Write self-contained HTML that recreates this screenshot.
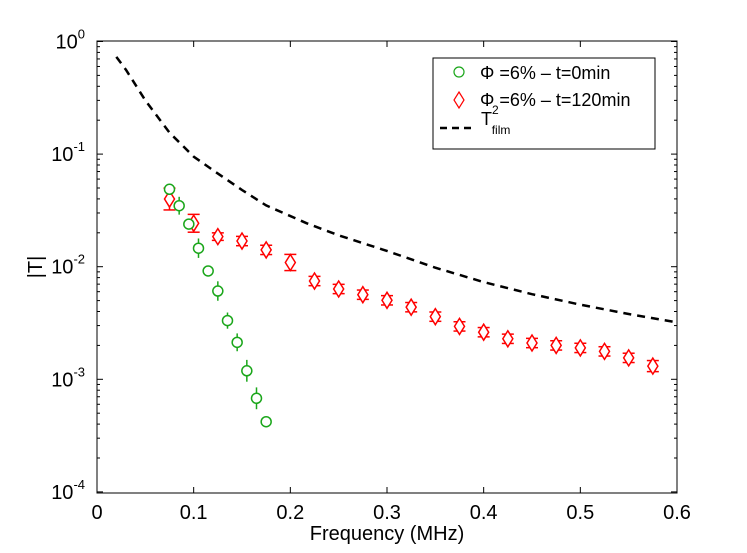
<!DOCTYPE html>
<html><head><meta charset="utf-8"><style>
body{margin:0;background:#fff;}
svg{display:block;font-family:"Liberation Sans",sans-serif;}
</style></head><body>
<svg id="chart" width="747" height="553">
<rect x="97" y="41" width="580" height="452" fill="#fff" stroke="#000" stroke-width="1"/>
<g id="ticks"></g>
<g id="series"></g>
<text x="387" y="540" font-size="20" text-anchor="middle">Frequency (MHz)</text>
<text x="0" y="0" font-size="20" text-anchor="middle" transform="translate(42,267) rotate(-90)">|T|</text>
<g>
<rect x="433" y="58" width="222" height="91" fill="#fff" stroke="#000"/>
<circle cx="459" cy="72" r="5" fill="none" stroke="#1aa61a" stroke-width="1.2"/>
<text x="480" y="79" font-size="18">Φ =6% – t=0min</text>
<path d="M459,92 l5,8 l-5,8 l-5,-8 z" fill="none" stroke="#f00" stroke-width="1.2"/>
<text x="480" y="106" font-size="18">Φ =6% – t=120min</text>
<line x1="440" y1="128" x2="475" y2="128" stroke="#000" stroke-width="2.5" stroke-dasharray="7,5"/>
<text x="481" y="125" font-size="18">T<tspan dy="-11" font-size="12">2</tspan><tspan dy="20" dx="-7" font-size="12">film</tspan></text>
</g>
</svg>
<script>
const xTicks=[0,0.1,0.2,0.3,0.4,0.5,0.6];
const xTickLabels=["0","0.1","0.2","0.3","0.4","0.5","0.6"];
const yExps=[0,-1,-2,-3,-4];
const filmFreq=[0.02,0.03,0.05,0.075,0.1,0.122,0.15,0.175,0.217,0.25,0.3,0.35,0.4,0.45,0.5,0.55,0.6];
const filmT=[0.73,0.56,0.30,0.155,0.095,0.07,0.048,0.035,0.0243,0.019,0.0138,0.0098,0.0073,0.0057,0.0046,0.0038,0.0032];
const gFreq=[0.075,0.085,0.095,0.105,0.115,0.125,0.135,0.145,0.155,0.165,0.175];
const gT=[0.0487,0.0348,0.0239,0.0146,0.00916,0.00608,0.00332,0.00213,0.00119,0.000678,0.00042];
const gErr=[0.1,0.2,0.1,0.22,0.06,0.22,0.18,0.2,0.25,0.25,0.04];
const rFreq=[0.075,0.1,0.125,0.15,0.175,0.2,0.225,0.25,0.275,0.3,0.325,0.35,0.375,0.4,0.425,0.45,0.475,0.5,0.525,0.55,0.575];
const rT=[0.0399,0.0243,0.0185,0.0169,0.0141,0.0109,0.00746,0.00634,0.00564,0.00503,0.00437,0.0036,0.00295,0.00262,0.00229,0.0021,0.002,0.0019,0.00177,0.00155,0.00131];
const rErr=[0.25,0.2,0.08,0.1,0.1,0.18,0.1,0.1,0.1,0.1,0.1,0.1,0.1,0.1,0.1,0.1,0.1,0.1,0.1,0.1,0.12];

const X0=97,X1=677,Y0=41.5,DEC=112.6;
const sx=f=>X0+f/0.6*(X1-X0);
const sy=v=>Y0-Math.log10(v)*DEC;
const NS="http://www.w3.org/2000/svg";
function mk(tag,attrs,parent){const e=document.createElementNS(NS,tag);for(const k in attrs)e.setAttribute(k,attrs[k]);parent.appendChild(e);return e;}
const tk=document.getElementById('ticks'),se=document.getElementById('series');
xTicks.forEach((t,i)=>{
 const x=sx(t);
 const a=mk('line',{x1:x,x2:x,y1:493,y2:487,stroke:'#000'},tk);
 
 
 mk('line',{x1:x,x2:x,y1:41,y2:47,stroke:'#000'},tk);
 const l=mk('text',{x:x,y:519,'font-size':20,'text-anchor':'middle'},tk);l.textContent=xTickLabels[i];
 
 
});
yExps.forEach(e=>{
 const y=sy(Math.pow(10,e));
 mk('line',{x1:97,x2:103,y1:y,y2:y,stroke:'#000'},tk);
 mk('line',{x1:677,x2:671,y1:y,y2:y,stroke:'#000'},tk);
 const l=mk('text',{x:85,y:y+7,'font-size':20,'text-anchor':'end'},tk);
 l.innerHTML='10<tspan dy="-10" font-size="13">'+e+'</tspan>';
 
 
 if(e>-4)for(let m=2;m<10;m++){const yy=sy(m*Math.pow(10,e-1));
  mk('line',{x1:97,x2:100,y1:yy,y2:yy,stroke:'#000'},tk);mk('line',{x1:677,x2:674,y1:yy,y2:yy,stroke:'#000'},tk);}
});
const film=mk('polyline',{points:filmFreq.map((f,i)=>sx(f)+','+sy(filmT[i])).join(' '),fill:'none',stroke:'#000','stroke-width':2.5,'stroke-dasharray':'8,6'},se);


function errbar(x,v,e,c,cap){
 const y1=sy(v*(1+e)),y2=sy(v/(1+e));
 mk('line',{x1:x,x2:x,y1:y1,y2:y2,stroke:c,'stroke-width':1.5},se);
 if(cap){mk('line',{x1:x-6,x2:x+6,y1:y1,y2:y1,stroke:c,'stroke-width':1.5},se);mk('line',{x1:x-6,x2:x+6,y1:y2,y2:y2,stroke:c,'stroke-width':1.5},se);}
}
rFreq.forEach((f,i)=>{
 const x=sx(f),y=sy(rT[i]);
 errbar(x,rT[i],rErr[i],'#f00',true);
 const p=mk('path',{d:`M${x},${y-8} L${x+5},${y} L${x},${y+8} L${x-5},${y} Z`,fill:'#fff',stroke:'#f00','stroke-width':1.5},se);
 
 
});
gFreq.forEach((f,i)=>{
 const x=sx(f),y=sy(gT[i]);
 errbar(x,gT[i],gErr[i],'#1aa61a',false);
 const c=mk('circle',{cx:x,cy:y,r:5,fill:'#fff',stroke:'#1aa61a','stroke-width':1.5},se);
 
 
});
</script>
</body></html>
